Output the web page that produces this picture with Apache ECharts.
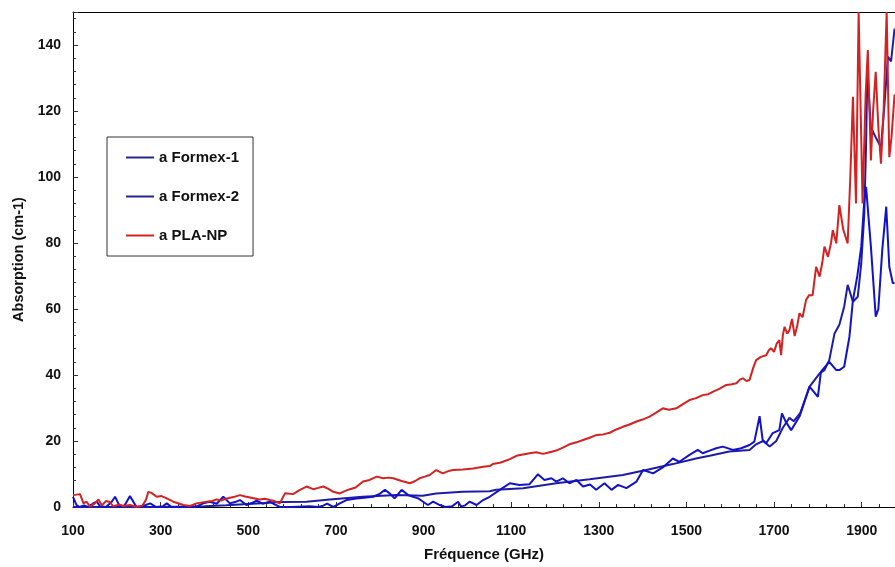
<!DOCTYPE html>
<html>
<head>
<meta charset="utf-8">
<script src="https://cdn.jsdelivr.net/npm/echarts@6/dist/echarts.min.js"></script>
<style>
html,body{margin:0;padding:0;background:#fff;}
#chart{width:895px;height:567px;}
</style>
</head>
<body>
<div id="chart"></div>
<script>
// ---- Data ----
const seriesNames = ['a Formex-1', 'a Formex-2', 'a PLA-NP'];

const formex1Freq = [100,200,300,400,450,500,540,572,633,686,761,838,898,929,989,1051,1066,1127,1203,1279,1355,1408,1469,1522,1553,1598,1644,1659,1675,1690,1705,1720,1735,1745,1760,1781,1804,1815,1826,1838,1849,1860,1868,1880,1891,1899,1906,1910,1913,1921,1932,1944,1952,1960,1967,1975];
const formex1Abs  = [0,0,0,0.2,0.5,0.9,1.2,1.5,1.6,2.3,3.1,3.6,3.4,4.1,4.6,4.8,5.2,5.7,7.2,8.4,9.7,11.2,13.0,14.7,15.5,16.8,17.3,19.0,20.0,18.3,20.0,24.0,27.0,26.0,28.5,36.5,40.5,41.5,44.5,52.6,55.2,60.7,67.3,62.2,63.7,73.8,89,110,132,115,112,109,122,136.5,135,145];

const formex2Freq = [100,108,115,125,135,145,154,162,175,188,196,207,218,230,245,260,276,290,305,314,325,380,397,412,428,443,458,470,481,496,508,519,533,549,560,572,600,640,660,671,680,694,709,724,747,770,785,800,812,823,834,850,865,876,888,899,910,922,937,950,965,979,986,995,1005,1021,1036,1051,1074,1097,1119,1142,1161,1176,1192,1203,1218,1233,1249,1264,1280,1294,1313,1329,1344,1363,1386,1401,1424,1446,1469,1484,1507,1526,1537,1553,1568,1583,1606,1625,1644,1655,1667,1674,1682,1697,1712,1718,1726,1739,1758,1781,1800,1807,1826,1842,1849,1860,1872,1880,1890,1899,1906,1910,1921,1932,1938,1947,1956,1963,1971,1975];
const formex2Abs  = [3.1,0.6,0,0.5,0,1.0,1.6,0.2,0,1.5,3.1,0.1,0.5,3.3,0,0.3,1.1,0,0.2,1.1,0,0,1.1,1.6,1.0,3.1,1.1,1.5,2.1,0.6,1.2,1.9,1.0,1.6,0.8,0,0,0.2,0,0.4,1.0,0,1.1,2.1,2.6,2.9,3.1,4.0,5.2,4.1,2.6,5.2,3.6,3.1,2.6,1.6,0.6,1.6,0.6,0,0.2,1.6,0.1,0.5,1.6,0.6,2.1,3.1,5.2,7.2,6.7,6.9,9.9,8.2,8.7,7.7,8.7,7.2,8.2,6.2,6.8,5.2,7.2,5.2,6.7,5.7,7.7,11.2,10.2,12.0,14.7,13.7,15.8,17.3,16.3,17.1,17.8,18.3,17.3,17.8,18.8,19.8,27.5,20.3,19.3,22.4,23.3,28.4,26.0,23.3,27.4,36.5,33.4,41.0,44.0,41.5,41.5,42.5,51.6,62.7,70,78.9,93,97,78.9,57.7,60,78,91,72.8,67.8,68];

const plaFreq = [100,116,124,131,139,150,158,166,175,184,192,205,215,230,245,258,266,272,280,291,302,314,329,352,367,382,395,405,418,428,440,451,466,481,493,504,515,526,538,549,560,572,584,602,618,633,648,660,671,683,694,709,720,732,745,762,777,793,808,820,831,850,869,880,891,903,914,929,944,955,967,990,1013,1036,1051,1058,1074,1081,1097,1112,1127,1142,1157,1173,1188,1203,1218,1233,1249,1264,1279,1294,1310,1325,1340,1355,1370,1386,1400,1416,1430,1446,1460,1477,1492,1507,1522,1537,1550,1560,1575,1591,1604,1614,1622,1629,1637,1644,1652,1659,1670,1682,1688,1693,1700,1706,1712,1716,1720,1724,1730,1735,1741,1747,1753,1758,1765,1773,1780,1788,1796,1804,1810,1815,1823,1830,1834,1842,1849,1858,1868,1874,1880,1887,1893,1902,1909,1914,1921,1926,1932,1938,1944,1950,1957,1963,1968,1975];
const plaAbs  = [3.6,3.9,1.1,1.6,0.1,1.1,2.3,0.5,1.8,1.5,0.2,0.8,0.3,0.6,0.1,0.4,2.0,4.6,4.2,3.1,3.3,2.6,1.6,0.6,0.3,1.1,1.4,1.6,1.8,2.3,2.0,2.6,3.0,3.6,3.2,2.9,2.6,2.3,2.5,2.1,1.8,1.1,4.2,3.9,5.2,6.2,5.4,5.8,6.2,5.5,4.6,4.1,4.8,5.4,5.9,7.7,8.2,9.2,8.7,8.9,8.7,7.9,7.2,7.8,8.7,9.2,9.7,11.2,10.2,10.8,11.2,11.4,11.7,12.2,12.4,13.0,13.4,13.7,14.5,15.5,15.9,16.3,16.6,16.1,16.6,17.1,18.0,19.0,19.6,20.3,21.0,21.8,22.0,22.5,23.5,24.3,25.0,25.9,26.5,27.4,28.5,29.9,29.5,29.9,31.2,32.4,33.0,33.9,34.2,34.9,35.8,37.0,37.2,37.5,38.6,39.0,38.2,38.5,42.0,44.5,45.5,46.0,47.5,48.1,47.0,49.5,50.6,46.0,52.0,54.6,52.5,53.6,57.0,51.8,55.0,58.7,57.5,62.7,64.2,64.2,72.8,69.8,74.0,78.9,75.8,80.0,83.9,79.9,91.5,84.0,79.9,100,124.3,92.0,150,92.0,125,138.5,105,120,131.9,115,104,120,150,106,112,125];

const xTickMin = 100, xTickStep = 200, xMax = 1976;
const yMin = 0, yMax = 150, yStep = 20;

const axisTitleX = 'Fréquence (GHz)';
const axisTitleY = 'Absorption (cm-1)';

function zip(a, b) { return a.map((x, i) => [x, b[i]]); }

const FONT = '"Liberation Sans", Arial, sans-serif';
const chart = echarts.init(document.getElementById('chart'), null, {renderer: 'canvas'});

const seriesColors = ['#1c1ca6', '#1212c8', '#d42222'];
const legendColors = ['#24248f', '#24248f', '#d42222'];
const seriesData = [zip(formex1Freq, formex1Abs), zip(formex2Freq, formex2Abs), zip(plaFreq, plaAbs)];
const lineIcon = 'path://M0,0 L28,0 L28,2 L0,2 Z';

chart.setOption({
  animation: false,
  backgroundColor: '#fff',
  grid: {left: 73, right: 0, top: 12, bottom: 60, show: false},
  legend: {
    orient: 'vertical', left: 107, top: 137,
    padding: [13, 14, 13, 19], itemGap: 24, itemWidth: 28, itemHeight: 14,
    borderColor: '#333', borderWidth: 1, backgroundColor: '#fff',
    textStyle: {fontFamily: FONT, fontWeight: 'bold', fontSize: 15, color: '#111'},
    data: seriesNames.map((n, i) => ({name: n, icon: lineIcon, itemStyle: {color: legendColors[i]}}))
  },
  xAxis: [{
    type: 'value', min: xTickMin, max: xMax, interval: xTickStep,
    name: axisTitleX, nameLocation: 'middle', nameGap: 40,
    nameTextStyle: {fontFamily: FONT, fontWeight: 'bold', fontSize: 15, color: '#111'},
    axisLine: {show: true, onZero: false, lineStyle: {color: '#000', width: 1}},
    axisTick: {show: true, inside: true, length: 5, lineStyle: {color: '#333'}},
    minorTick: {show: true, splitNumber: 5, length: 3, lineStyle: {color: '#333'}},
    axisLabel: {fontFamily: FONT, fontWeight: 'bold', fontSize: 14, color: '#111', margin: 17, showMaxLabel: false,
      formatter: v => String(v)},
    splitLine: {show: false}
  }, {
    type: 'value', position: 'top', min: xTickMin, max: xMax, interval: xTickStep,
    axisLine: {show: true, onZero: false, lineStyle: {color: '#000', width: 1}},
    axisTick: {show: false}, minorTick: {show: false}, axisLabel: {show: false}, splitLine: {show: false}
  }],
  yAxis: {
    type: 'value', min: yMin, max: yMax, interval: yStep,
    name: axisTitleY, nameLocation: 'middle', nameGap: 47, nameRotate: 90,
    nameTextStyle: {fontFamily: FONT, fontWeight: 'bold', fontSize: 14.5, color: '#111'},
    axisLine: {show: true, onZero: false, lineStyle: {color: '#000', width: 1}},
    axisTick: {show: true, inside: true, length: 5, lineStyle: {color: '#333'}},
    minorTick: {show: true, splitNumber: 5, length: 3, lineStyle: {color: '#333'}},
    axisLabel: {fontFamily: FONT, fontWeight: 'bold', fontSize: 14, color: '#111', margin: 12, showMaxLabel: false,
      formatter: v => String(v)},
    splitLine: {show: false}
  },
  series: seriesNames.map((n, i) => ({
    name: n, type: 'line', data: seriesData[i], symbol: 'none', clip: true, xAxisIndex: 0,
    lineStyle: {width: 2, color: seriesColors[i]}, itemStyle: {color: seriesColors[i]}
  }))
});
</script>
</body>
</html>
